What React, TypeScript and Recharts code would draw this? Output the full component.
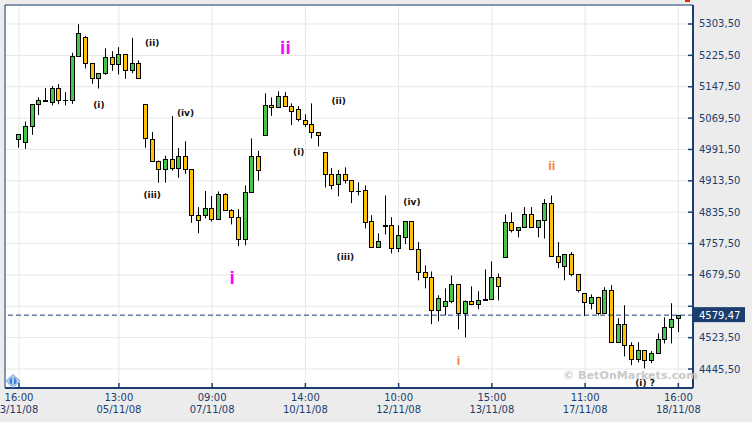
import { ComposedChart, Bar, XAxis, YAxis, CartesianGrid, ReferenceLine, ReferenceDot } from 'recharts';

const NAVY = '#1b3d6f';
const UP = '#47c64b';
const DOWN = '#ffc107';

// hourly-ish candles, 3/11/08 16:00 -> 18/11/08 16:00
const opens = [
  5017, 5011, 5049, 5104, 5112, 5109, 5144, 5114, 5115, 5223,
  5270, 5206, 5168, 5181, 5221, 5203, 5228, 5188, 5206, 5104,
  5017, 4964, 4942, 4969, 4945, 4974, 4942, 4828, 4828, 4845,
  4818, 4880, 4840, 4823, 4770, 4885, 4974, 5027, 5101, 5096,
  5124, 5099, 5091, 5064, 5056, 5034, 4984, 4930, 4905, 4930,
  4915, 4888, 4890, 4813, 4748, 4802, 4803, 4746, 4775, 4813,
  4743, 4686, 4674, 4591, 4601, 4614, 4656, 4584, 4614, 4606,
  4618, 4619, 4674, 4723, 4810, 4790, 4798, 4830, 4798, 4815,
  4858, 4726, 4701, 4731, 4681, 4634, 4609, 4624, 4586, 4641,
  4513, 4557, 4504, 4470, 4492, 4467, 4485, 4519, 4549, 4572,
];
const highs = [
  5029, 5061, 5104, 5121, 5144, 5149, 5154, 5134, 5232, 5303,
  5274, 5206, 5181, 5243, 5236, 5246, 5228, 5269, 5213, 5104,
  5035, 4964, 4976, 5075, 4995, 5012, 4942, 4848, 4888, 4876,
  4887, 4883, 4843, 4843, 4902, 5019, 4988, 5131, 5121, 5136,
  5134, 5106, 5099, 5079, 5106, 5034, 4984, 4945, 4940, 4947,
  4915, 4910, 4902, 4828, 4783, 4877, 4823, 4803, 4813, 4813,
  4761, 4703, 4688, 4629, 4646, 4678, 4656, 4616, 4651, 4639,
  4693, 4713, 4683, 4830, 4835, 4798, 4848, 4848, 4815, 4868,
  4877, 4761, 4731, 4736, 4681, 4634, 4631, 4624, 4649, 4654,
  4572, 4604, 4512, 4512, 4492, 4490, 4534, 4574, 4609, 4580,
];
const lows = [
  4996, 4993, 5028, 5077, 5111, 5101, 5104, 5101, 5105, 5223,
  5193, 5155, 5143, 5177, 5187, 5178, 5167, 5181, 5168, 4996,
  4960, 4909, 4909, 4939, 4921, 4931, 4809, 4783, 4820, 4812,
  4818, 4840, 4805, 4751, 4753, 4885, 4914, 5027, 5075, 5096,
  5099, 5052, 5061, 5047, 5019, 4999, 4897, 4892, 4875, 4907,
  4858, 4877, 4795, 4748, 4748, 4780, 4733, 4736, 4756, 4743,
  4666, 4646, 4557, 4564, 4579, 4609, 4544, 4524, 4604, 4594,
  4618, 4619, 4616, 4723, 4785, 4773, 4798, 4798, 4773, 4770,
  4726, 4696, 4666, 4676, 4636, 4577, 4594, 4579, 4586, 4513,
  4513, 4477, 4455, 4462, 4447, 4460, 4485, 4509, 4509, 4537,
];
const closes = [
  5029, 5049, 5104, 5114, 5114, 5144, 5115, 5115, 5223, 5280,
  5206, 5168, 5181, 5221, 5203, 5228, 5188, 5206, 5168, 5019,
  4964, 4942, 4969, 4945, 4974, 4942, 4828, 4815, 4845, 4818,
  4880, 4840, 4823, 4770, 4885, 4974, 4940, 5101, 5096, 5124,
  5099, 5086, 5066, 5056, 5034, 5027, 4930, 4902, 4930, 4915,
  4887, 4889, 4810, 4748, 4763, 4803, 4746, 4778, 4813, 4743,
  4686, 4674, 4591, 4621, 4614, 4656, 4584, 4614, 4606, 4616,
  4619, 4674, 4651, 4810, 4790, 4798, 4830, 4798, 4815, 4858,
  4726, 4711, 4731, 4681, 4641, 4611, 4624, 4586, 4641, 4513,
  4557, 4504, 4470, 4492, 4467, 4485, 4519, 4549, 4569, 4579.47,
];

const tickIdx = [0, 15, 29, 43, 57, 71, 85, 99];
const tickTimes = ['16:00', '13:00', '09:00', '14:00', '10:00', '15:00', '11:00', '16:00'];
const tickDates = ['3/11/08', '05/11/08', '07/11/08', '10/11/08', '12/11/08', '13/11/08', '17/11/08', '18/11/08'];
const priceTicks = [4445.5, 4523.5, 4601.5, 4679.5, 4757.5, 4835.5, 4913.5, 4991.5, 5069.5, 5147.5, 5225.5, 5303.5];
const lastPrice = 4579.47;

// elliott wave labels: candle index, price level, text, kind
const noteIdx = [20, 12, 25, 20, 40, 48, 42, 59, 49, 32, 80, 66, 94];
const notePrice = [5257, 5101, 5081, 4877, 5247, 5112, 4985, 4861, 4724, 4674, 4951, 4468, 4411];
const noteText = ['(ii)', '(i)', '(iv)', '(iii)', 'ii', '(ii)', '(i)', '(iv)', '(iii)', 'i', 'ii', 'i', '(i) ?'];
const noteKind = ['w', 'w', 'w', 'w', 'M', 'w', 'w', 'w', 'w', 'M', 'm', 'm', 'w'];

const data = opens.map((o, i) => ({ i, open: o, high: highs[i], low: lows[i], close: closes[i] }));

const noteStyles: Record<string, any> = {
  w: { fill: '#111', fontSize: 9, fontFamily: 'DejaVu Sans', lift: 0.33 },
  M: { fill: '#ff00ff', fontSize: 19, fontFamily: 'Liberation Sans', lift: 0.36 },
  m: { fill: '#f7843c', fontSize: 13, fontFamily: 'Liberation Sans', lift: 0.36 },
};

const fmt = (v: number) => v.toFixed(2).replace('.', ',');

function Candle(props: any) {
  const { x, y, width, height, payload } = props;
  if (x == null || y == null) return null;
  const top = Math.min(y, y + height);
  const bot = Math.max(y, y + height);
  const span = payload.high - payload.low || 1;
  const py = (v: number) => top + ((payload.high - v) / span) * (bot - top);
  const cx = Math.floor(x + width / 2) + 0.5;
  const yo = py(payload.open);
  const yc = py(payload.close);
  const bt = Math.round(Math.min(yo, yc)) + 0.5;
  const bb = Math.round(Math.max(yo, yc)) + 0.5;
  const up = payload.close >= payload.open;
  return (
    <g>
      <line x1={cx} x2={cx} y1={top} y2={bot} stroke="#000" strokeWidth={1} />
      <rect x={cx - 2} y={bt} width={4} height={Math.max(bb - bt, 0.01)} fill={up ? UP : DOWN} stroke="#000" strokeWidth={1} />
    </g>
  );
}

function PriceTick(props: any) {
  const { x, y, payload } = props;
  const hide = Math.abs(payload.value - lastPrice) < 39;
  return (
    <g>
      <line x1={x - 5} x2={x} y1={y} y2={y} stroke={NAVY} strokeWidth={1.5} />
      {!hide && (
        <text x={x + 6} y={y + 3.5} fill={NAVY} fontSize={10} fontFamily="DejaVu Sans">
          {fmt(payload.value)}
        </text>
      )}
    </g>
  );
}

function TimeTick(props: any) {
  const { x, y, payload } = props;
  const k = tickIdx.indexOf(payload.value);
  return (
    <g>
      <line x1={x} x2={x} y1={y - 5} y2={y} stroke={NAVY} strokeWidth={1.5} />
      <text x={x} y={y + 13} textAnchor="middle" fill={NAVY} fontSize={10} fontFamily="DejaVu Sans">
        {tickTimes[k]}
      </text>
      <text x={x} y={y + 24.5} textAnchor="middle" fill={NAVY} fontSize={10} fontFamily="DejaVu Sans">
        {tickDates[k]}
      </text>
    </g>
  );
}

function noteLabel(k: number) {
  const st = noteStyles[noteKind[k]];
  return (p: any) => {
    const vb = p.viewBox || {};
    const cx = vb.x + (vb.width || 0) / 2;
    const cy = vb.y + (vb.height || 0) / 2;
    return (
      <text
        x={cx}
        y={cy + st.lift * st.fontSize}
        textAnchor="middle"
        fill={st.fill}
        fontSize={st.fontSize}
        fontFamily={st.fontFamily}
        fontWeight={700}
      >
        {noteText[k]}
      </text>
    );
  };
}

function priceBox(p: any) {
  const vb = p.viewBox || {};
  const right = vb.x + vb.width;
  const yy = vb.y;
  return (
    <g>
      <rect x={right + 1} y={yy - 8} width={51} height={15} fill={NAVY} />
      <text x={right + 6} y={yy + 3.5} fill="#fff" fontSize={10} fontFamily="DejaVu Sans">
        {fmt(lastPrice)}
      </text>
    </g>
  );
}

export default function App() {
  return (
    <div style={{ position: 'absolute', left: 0, top: 0, width: 752, height: 422, background: '#ececec', overflow: 'hidden' }}>
      <ComposedChart width={752} height={422} data={data} margin={{ top: 4, right: 0, bottom: 0, left: 4 }}>
        <CartesianGrid stroke="#e6e6e6" fill="#ffffff" />
        <XAxis
          dataKey="i"
          type="category"
          ticks={tickIdx}
          interval={0}
          height={34}
          padding={{ left: 10.67, right: 11.33 }}
          axisLine={{ stroke: NAVY, strokeWidth: 2 }}
          tickLine={false}
          tickSize={0}
          tickMargin={0}
          tick={<TimeTick />}
        />
        <XAxis xAxisId="frame" orientation="top" height={1} tick={false} tickLine={false} axisLine={{ stroke: NAVY }} />
        <YAxis
          orientation="right"
          type="number"
          width={59}
          domain={[4398.25, 5350.75]}
          allowDataOverflow
          ticks={priceTicks}
          interval={0}
          axisLine={{ stroke: NAVY, strokeWidth: 2 }}
          tickLine={false}
          tickSize={0}
          tickMargin={0}
          tick={<PriceTick />}
        />
        <YAxis yAxisId="frame" orientation="left" width={1} tick={false} tickLine={false} axisLine={{ stroke: NAVY }} />
        <Bar dataKey={(d: any) => [d.low, d.high]} shape={<Candle />} isAnimationActive={false} />
        <ReferenceLine y={lastPrice} stroke={NAVY} strokeDasharray="5 3" label={priceBox} />
        {noteIdx.map((ix, k) => (
          <ReferenceDot key={k} x={ix} y={notePrice[k]} r={1} fill="none" stroke="none" label={noteLabel(k)} />
        ))}
      </ComposedChart>
      <div
        style={{
          position: 'absolute', left: 563, top: 369, fontFamily: 'DejaVu Sans', fontWeight: 700,
          fontSize: 11, color: '#c9c9c9', letterSpacing: 0.1, whiteSpace: 'nowrap',
        }}
      >
        © BetOnMarkets.com
      </div>
      <svg style={{ position: 'absolute', left: 5, top: 374 }} width={16} height={14}>
        <polygon points="8,0.5 15,7 8,13.5 1,7" fill="#bcd6ef" stroke="#7fa7d3" />
        <circle cx={8} cy={7} r={3.6} fill="#3d86d6" />
        <rect x={7.4} y={4} width={1.2} height={6} fill="#fff" />
      </svg>
      <div style={{ position: 'absolute', left: 685, top: 0, width: 5, height: 2, background: '#e8221b' }} />
    </div>
  );
}
